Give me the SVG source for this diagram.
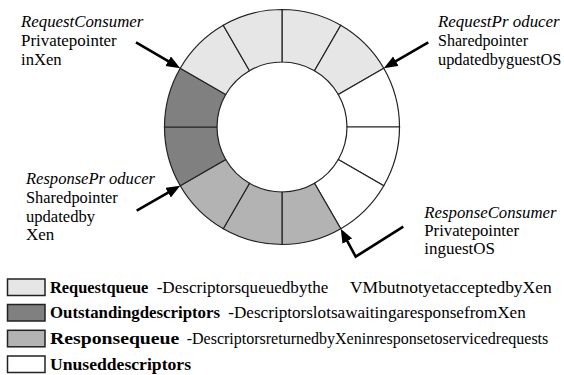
<svg xmlns="http://www.w3.org/2000/svg" width="564" height="375" viewBox="0 0 564 375">
<style>
  .seg { stroke: #222; stroke-width: 1.2; }
  .req { fill: #e6e6e6; }
  .out { fill: #808080; }
  .rsp { fill: #b3b3b3; }
  .unu { fill: #ffffff; }
  .lbl { font-family: "Liberation Serif", "Times New Roman", serif; font-size: 17px; fill: #000; }
  .sm { font-size: 16px; }
  .it { font-style: italic; }
  .b { font-weight: bold; }
  .arr { fill: none; stroke: #000; stroke-width: 2.6; }
  .box { stroke: #222; stroke-width: 1.5; }
</style>
<defs>
  <marker id="ah" markerUnits="userSpaceOnUse" markerWidth="15" markerHeight="12" refX="6" refY="5.5" orient="auto">
    <path d="M0,0 L14,5.5 L0,11 z" fill="#000"/>
  </marker>
</defs>
<rect width="564" height="375" fill="#fff"/>
<g id="ring">
  <path class="seg req" d="M282,9.5 A117.5,117.5 0 0 1 340.75,25.24 L314.5,70.71 A65,65 0 0 0 282,62 Z"/>
  <path class="seg req" d="M340.75,25.24 A117.5,117.5 0 0 1 383.76,68.25 L338.29,94.5 A65,65 0 0 0 314.5,70.71 Z"/>
  <path class="seg unu" d="M383.76,68.25 A117.5,117.5 0 0 1 399.5,127 L347,127 A65,65 0 0 0 338.29,94.5 Z"/>
  <path class="seg unu" d="M399.5,127 A117.5,117.5 0 0 1 383.76,185.75 L338.29,159.5 A65,65 0 0 0 347,127 Z"/>
  <path class="seg unu" d="M383.76,185.75 A117.5,117.5 0 0 1 340.75,228.76 L314.5,183.29 A65,65 0 0 0 338.29,159.5 Z"/>
  <path class="seg rsp" d="M340.75,228.76 A117.5,117.5 0 0 1 282,244.5 L282,192 A65,65 0 0 0 314.5,183.29 Z"/>
  <path class="seg rsp" d="M282,244.5 A117.5,117.5 0 0 1 223.25,228.76 L249.5,183.29 A65,65 0 0 0 282,192 Z"/>
  <path class="seg rsp" d="M223.25,228.76 A117.5,117.5 0 0 1 180.24,185.75 L225.71,159.5 A65,65 0 0 0 249.5,183.29 Z"/>
  <path class="seg out" d="M180.24,185.75 A117.5,117.5 0 0 1 164.5,127 L217,127 A65,65 0 0 0 225.71,159.5 Z"/>
  <path class="seg out" d="M164.5,127 A117.5,117.5 0 0 1 180.24,68.25 L225.71,94.5 A65,65 0 0 0 217,127 Z"/>
  <path class="seg req" d="M180.24,68.25 A117.5,117.5 0 0 1 223.25,25.24 L249.5,70.71 A65,65 0 0 0 225.71,94.5 Z"/>
  <path class="seg req" d="M223.25,25.24 A117.5,117.5 0 0 1 282,9.5 L282,62 A65,65 0 0 0 249.5,70.71 Z"/>
</g>
<g id="connectors">
  <line class="arr" x1="136" y1="42.3" x2="173.3" y2="64.2" marker-end="url(#ah)"/>
  <line class="arr" x1="428.3" y1="42.3" x2="390.7" y2="64.2" marker-end="url(#ah)"/>
  <line class="arr" x1="136.7" y1="210.7" x2="173.3" y2="189.7" marker-end="url(#ah)"/>
  <polyline class="arr" points="403.3,226.7 355.7,256.7 344.5,235.8" marker-end="url(#ah)"/>
</g>
<g id="request-consumer">
  <text class="lbl it" x="21" y="26.5" textLength="122.3" lengthAdjust="spacingAndGlyphs">RequestConsumer</text>
  <text class="lbl" x="21" y="46" textLength="95.7" lengthAdjust="spacingAndGlyphs">Privatepointer</text>
  <text class="lbl" x="21" y="65" textLength="40.7" lengthAdjust="spacingAndGlyphs">inXen</text>
</g>
<g id="request-producer">
  <text class="lbl it" x="438" y="26.5" textLength="121.7" lengthAdjust="spacingAndGlyphs">RequestPr oducer</text>
  <text class="lbl" x="438" y="46" textLength="90" lengthAdjust="spacingAndGlyphs">Sharedpointer</text>
  <text class="lbl sm" x="438" y="65" textLength="123.3" lengthAdjust="spacingAndGlyphs">updatedbyguestOS</text>
</g>
<g id="response-producer">
  <text class="lbl it" x="26" y="184.3" textLength="129" lengthAdjust="spacingAndGlyphs">ResponsePr oducer</text>
  <text class="lbl" x="26" y="203" textLength="91.7" lengthAdjust="spacingAndGlyphs">Sharedpointer</text>
  <text class="lbl" x="26" y="221.5" textLength="69" lengthAdjust="spacingAndGlyphs">updatedby</text>
  <text class="lbl" x="26" y="240" textLength="28.3" lengthAdjust="spacingAndGlyphs">Xen</text>
</g>
<g id="response-consumer">
  <text class="lbl it" x="424.3" y="218" textLength="132.3" lengthAdjust="spacingAndGlyphs">ResponseConsumer</text>
  <text class="lbl" x="424.3" y="236" textLength="94.7" lengthAdjust="spacingAndGlyphs">Privatepointer</text>
  <text class="lbl" x="424.3" y="253.5" textLength="70.7" lengthAdjust="spacingAndGlyphs">inguestOS</text>
</g>
<g id="legend">
  <rect class="box req" x="7.5" y="279" width="37.5" height="16.5"/>
  <text class="lbl b" x="50" y="292.5" textLength="98.3" lengthAdjust="spacingAndGlyphs">Requestqueue</text>
  <text class="lbl" x="156.7" y="292.5" textLength="171.6" lengthAdjust="spacingAndGlyphs">-Descriptorsqueuedbythe</text>
  <text class="lbl" x="350" y="292.5" textLength="201.7" lengthAdjust="spacingAndGlyphs">VMbutnotyetacceptedbyXen</text>
  <rect class="box out" x="7.5" y="304.5" width="37.5" height="16.5"/>
  <text class="lbl b" x="50" y="318.3" textLength="170" lengthAdjust="spacingAndGlyphs">Outstandingdescriptors</text>
  <text class="lbl" x="228.3" y="318.3" textLength="297.4" lengthAdjust="spacingAndGlyphs">-DescriptorslotsawaitingaresponsefromXen</text>
  <rect class="box rsp" x="7.5" y="330.3" width="37.5" height="16.5"/>
  <text class="lbl b" x="50" y="344" textLength="129.3" lengthAdjust="spacingAndGlyphs">Responsequeue</text>
  <text class="lbl sm" x="186.7" y="344" textLength="361.6" lengthAdjust="spacingAndGlyphs">-DescriptorsreturnedbyXeninresponsetoservicedrequests</text>
  <rect class="box unu" x="7.5" y="356" width="37.5" height="16.5"/>
  <text class="lbl b" x="50" y="369.5" textLength="141" lengthAdjust="spacingAndGlyphs">Unuseddescriptors</text>
</g>
</svg>
